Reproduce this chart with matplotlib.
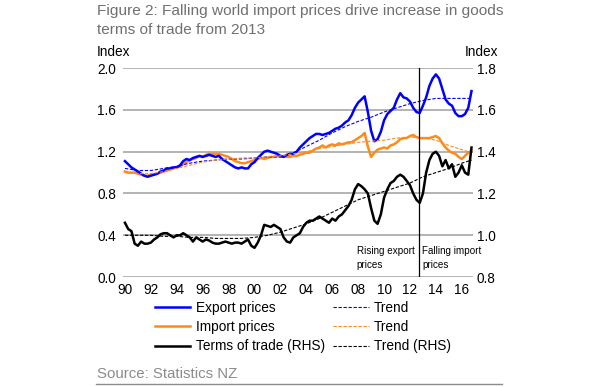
import numpy as np
import matplotlib
matplotlib.use('Agg')
import matplotlib.pyplot as plt

plt.rcParams['font.family'] = ['Liberation Sans', 'DejaVu Sans']

# quarterly data, 1990Q1 .. 2016Q4
quarters = np.arange(1990, 2016.76, 0.25)

export_prices = [
    1.11, 1.08, 1.05, 1.03, 1.01, 0.99, 0.97, 0.96,   # 90-91
    0.97, 0.98, 0.99, 1.01, 1.02, 1.04, 1.04, 1.05,   # 92-93
    1.05, 1.07, 1.11, 1.13, 1.12, 1.14, 1.15, 1.16,   # 94-95
    1.15, 1.16, 1.17, 1.16, 1.15, 1.16, 1.13, 1.11,   # 96-97
    1.09, 1.07, 1.05, 1.04, 1.05, 1.04, 1.04, 1.08,   # 98-99
    1.10, 1.14, 1.17, 1.20, 1.21, 1.20, 1.19, 1.18,   # 00-01
    1.16, 1.15, 1.17, 1.18, 1.18, 1.20, 1.24, 1.27,   # 02-03
    1.30, 1.33, 1.35, 1.37, 1.37, 1.36, 1.37, 1.38,   # 04-05
    1.40, 1.42, 1.43, 1.45, 1.48, 1.50, 1.55, 1.62,   # 06-07
    1.67, 1.70, 1.73, 1.58, 1.40, 1.30, 1.32, 1.39,   # 08-09
    1.50, 1.56, 1.59, 1.62, 1.70, 1.76, 1.72, 1.71,   # 10-11
    1.68, 1.62, 1.58, 1.57, 1.64, 1.72, 1.83, 1.90,   # 12-13
    1.94, 1.90, 1.80, 1.70, 1.66, 1.64, 1.57, 1.54,   # 14-15
    1.54, 1.56, 1.62, 1.78,                           # 16
]

import_prices = [
    1.01, 1.00, 1.00, 1.00, 0.99, 0.98, 0.97, 0.97,
    0.98, 0.98, 0.99, 1.00, 1.01, 1.02, 1.03, 1.04,
    1.05, 1.06, 1.08, 1.10, 1.12, 1.13, 1.14, 1.16,
    1.15, 1.17, 1.18, 1.18, 1.18, 1.18, 1.17, 1.16,
    1.15, 1.13, 1.11, 1.10, 1.09, 1.09, 1.10, 1.11,
    1.12, 1.13, 1.14, 1.13, 1.14, 1.15, 1.15, 1.16,
    1.15, 1.16, 1.15, 1.15, 1.16, 1.16, 1.17, 1.18,
    1.19, 1.19, 1.21, 1.23, 1.24, 1.26, 1.24, 1.26,
    1.27, 1.26, 1.28, 1.27, 1.28, 1.29, 1.29, 1.31,
    1.33, 1.35, 1.38, 1.25, 1.15, 1.19, 1.22, 1.23,
    1.24, 1.23, 1.26, 1.27, 1.29, 1.32, 1.33, 1.33,
    1.35, 1.36, 1.34, 1.33, 1.33, 1.33, 1.33, 1.34,
    1.35, 1.33, 1.28, 1.24, 1.21, 1.19, 1.18, 1.15,
    1.13, 1.16, 1.19, 1.21,
]

terms_of_trade = [
    1.06, 1.03, 1.02, 0.96, 0.95, 0.97, 0.96, 0.96,
    0.965, 0.98, 0.99, 1.005, 1.01, 1.01, 1.00, 0.99,
    1.00, 1.00, 1.01, 1.00, 0.99, 0.97, 0.99, 0.98,
    0.97, 0.98, 0.975, 0.965, 0.96, 0.96, 0.965, 0.97,
    0.965, 0.96, 0.965, 0.965, 0.96, 0.97, 0.98, 0.95,
    0.94, 0.965, 1.00, 1.05, 1.045, 1.04, 1.05, 1.04,
    1.03, 0.99, 0.97, 0.965, 0.99, 1.00, 1.01, 1.04,
    1.06, 1.07, 1.07, 1.08, 1.09, 1.08, 1.07, 1.06,
    1.08, 1.07, 1.09, 1.10, 1.12, 1.14, 1.17, 1.22,
    1.245, 1.235, 1.22, 1.20, 1.13, 1.07, 1.055, 1.10,
    1.18, 1.22, 1.25, 1.26, 1.28, 1.29, 1.28, 1.26,
    1.24, 1.20, 1.17, 1.155, 1.20, 1.30, 1.36, 1.39,
    1.40, 1.38, 1.33, 1.36, 1.32, 1.34, 1.28, 1.30,
    1.335, 1.30, 1.29, 1.42,
]

# trends, read at yearly points
trend_years = [1990, 1991, 1992, 1993, 1994, 1995, 1996, 1997, 1998, 1999,
               2000, 2001, 2002, 2003, 2004, 2005, 2006, 2007, 2008, 2009,
               2010, 2011, 2012, 2013, 2014, 2015, 2016, 2016.75]
export_trend = [1.04, 1.02, 1.02, 1.04, 1.06, 1.09, 1.11, 1.12, 1.13, 1.13,
                1.14, 1.15, 1.15, 1.19, 1.25, 1.31, 1.38, 1.44, 1.49, 1.53,
                1.58, 1.62, 1.66, 1.69, 1.71, 1.71, 1.71, 1.71]
import_trend = [1.00, 0.99, 0.99, 1.01, 1.04, 1.07, 1.10, 1.12, 1.13, 1.14,
                1.14, 1.15, 1.16, 1.18, 1.20, 1.23, 1.25, 1.27, 1.29, 1.30,
                1.31, 1.33, 1.34, 1.335, 1.31, 1.26, 1.22, 1.19]
tot_trend = [1.00, 1.00, 1.00, 0.995, 0.995, 0.99, 0.99, 0.985, 0.985, 0.985,
             0.99, 1.00, 1.015, 1.035, 1.055, 1.08, 1.11, 1.14, 1.17, 1.19,
             1.21, 1.23, 1.25, 1.28, 1.30, 1.32, 1.345, 1.36]

xtick_years = list(range(1990, 2017, 2))
left_ticks = [0.0, 0.4, 0.8, 1.2, 1.6, 2.0]
right_ticks = [0.8, 1.0, 1.2, 1.4, 1.6, 1.8]
split_year = 2012.7

blue = '#0000ff'
orange = '#ff8a1c'

fig = plt.figure(figsize=(6, 3.87), dpi=100)
ax = fig.add_axes([0.205, 0.284, 0.583, 0.540])
ax2 = ax.twinx()

# lines
l1, = ax.plot(quarters, export_prices, color=blue, lw=1.8, zorder=4)
l2, = ax.plot(quarters, import_prices, color=orange, lw=1.8, zorder=3)
t1, = ax.plot(trend_years, export_trend, color=blue, lw=0.8, ls=(0, (3, 1.5)), zorder=5)
t2, = ax.plot(trend_years, import_trend, color=orange, lw=0.8, ls=(0, (3, 1.5)), zorder=5)
l3, = ax2.plot(quarters, terms_of_trade, color='black', lw=1.8, zorder=3)
t3, = ax2.plot(trend_years, tot_trend, color='black', lw=0.8, ls=(0, (3, 1.5)), zorder=4)

ax.axvline(split_year, color='black', lw=0.9, zorder=6)

# axes setup
ax.set_xlim(1989.85, 2016.85)
ax.set_ylim(0, 2.0)
ax2.set_ylim(0.8, 1.8)
ax.set_yticks(left_ticks)
ax.set_yticklabels(['%.1f' % v for v in left_ticks])
ax2.set_yticks(right_ticks)
ax2.set_yticklabels(['%.1f' % v for v in right_ticks])
ax.set_xticks(xtick_years)
ax.set_xticklabels(['%02d' % (y % 100) for y in xtick_years])
ax.yaxis.grid(True, color='#b3b3b3', lw=1.4)
ax.set_axisbelow(True)
for a in (ax, ax2):
    for s in a.spines.values():
        s.set_visible(False)
ax.tick_params(axis='both', length=0, labelsize=9.8, colors='black')
ax.tick_params(axis='y', pad=5)
ax.tick_params(axis='x', pad=4)
ax2.tick_params(axis='y', length=0, labelsize=9.8, pad=3)

# annotations
ax.text(2007.9, 0.30, 'Rising export\nprices', fontsize=7.1, va='top', ha='left', linespacing=1.55)
ax.text(2012.95, 0.30, 'Falling import\nprices', fontsize=7.1, va='top', ha='left', linespacing=1.55)

# titles and labels
fig.text(97/600, 1 - 4/387, 'Figure 2: Falling world import prices drive increase in goods\nterms of trade from 2013',
         fontsize=11.1, color='#707070', va='top', ha='left', linespacing=1.5)
fig.text(97/600, 1 - 52/387, 'Index', fontsize=9.8, va='center', ha='left')
fig.text(498/600, 1 - 52/387, 'Index', fontsize=9.8, va='center', ha='right')

fig.legend([l1, l2, l3, t1, t2, t3],
           ['Export prices', 'Import prices', 'Terms of trade (RHS)', 'Trend', 'Trend', 'Trend (RHS)'],
           ncol=2, loc='upper left', bbox_to_anchor=(155/600, 1 - 301/387),
           frameon=False, fontsize=9.8, handlelength=2.6, handletextpad=0.4,
           columnspacing=0.6, labelspacing=0.38, borderpad=0, borderaxespad=0)

fig.text(97/600, 1 - 374/387, 'Source: Statistics NZ', fontsize=10.8, color='#8c8c8c', va='center', ha='left')
fig.add_artist(plt.Line2D([96/600, 502/600], [1 - 384/387, 1 - 384/387], color='#8c8c8c', lw=1))

fig.savefig('out.png', dpi=100)
